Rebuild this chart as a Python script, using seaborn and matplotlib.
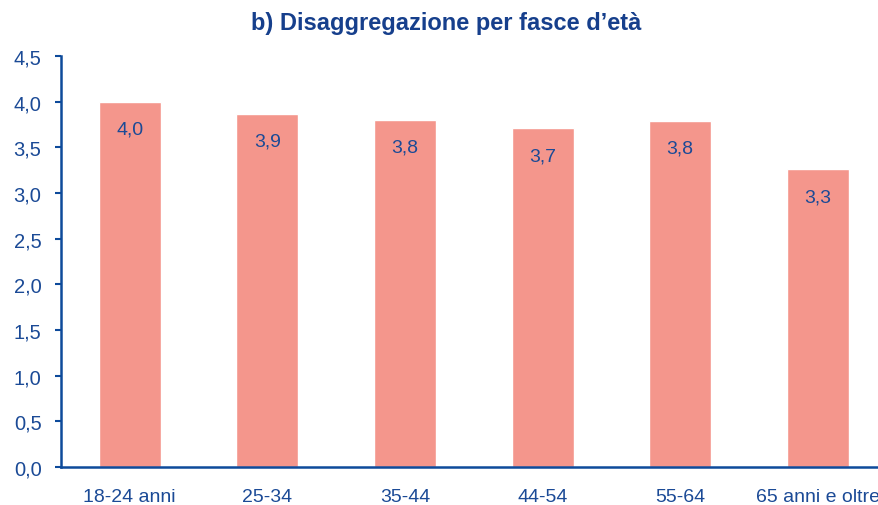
import matplotlib
matplotlib.use("Agg")
import matplotlib.pyplot as plt
import seaborn as sns
import pandas as pd
from matplotlib.ticker import FixedLocator, FuncFormatter

categories = ["18-24 anni", "25-34", "35-44", "44-54", "55-64", "65 anni e oltre"]
values = [4.0, 3.87, 3.80, 3.71, 3.79, 3.26]
labels = ["4,0", "3,9", "3,8", "3,7", "3,8", "3,3"]
title = "b) Disaggregazione per fasce d\u2019età"

sns.set_style("white")
plt.rcParams["font.family"] = ["Liberation Sans", "DejaVu Sans"]

BAR = "#F4968C"
BLUE = "#0D4A9B"
TXT = "#1B4A96"

fig = plt.figure(figsize=(8.79, 5.06), dpi=100)
ax = fig.add_axes([61 / 879, 38 / 506, 818 / 879, (468 - 57) / 506])

df = pd.DataFrame({"cat": categories, "val": values})
sns.barplot(data=df, x="cat", y="val", color=BAR, saturation=1, width=0.45, ax=ax)

for i, p in enumerate(ax.patches):
    ax.text(p.get_x() + p.get_width() / 2, p.get_height() - 0.3, labels[i],
            ha="center", va="center", fontsize=14, color=TXT)

ax.set_ylim(0, 4.5)
ax.set_xlim(-0.5, -0.5 + 818 / 137.6)
ax.set_yticks([i * 0.5 for i in range(10)])
ax.yaxis.set_major_formatter(FuncFormatter(lambda v, _: f"{v:.1f}".replace(".", ",")))
ax.set_xlabel("")
ax.set_ylabel("")

ax.xaxis.set_minor_locator(FixedLocator([i - 0.5 for i in range(len(categories) + 1)]))
ax.tick_params(axis="x", which="major", length=0, pad=15, labelsize=14, labelcolor=TXT)
ax.tick_params(axis="x", which="minor", length=5, width=1.5, color=BLUE, direction="out")
ax.tick_params(axis="y", which="major", length=4.5, width=1.5, color=BLUE, direction="out",
               left=True, labelsize=14.5, labelcolor=TXT, pad=9.5)

for s in ["top", "right"]:
    ax.spines[s].set_visible(False)
for s in ["left", "bottom"]:
    ax.spines[s].set_color(BLUE)
    ax.spines[s].set_linewidth(1.8)

fig.text(446 / 879, 1 - 24 / 506, title, ha="center", va="center",
         fontsize=17, fontweight="bold", color="#163F8C")

fig.savefig("out.png", dpi=100)
